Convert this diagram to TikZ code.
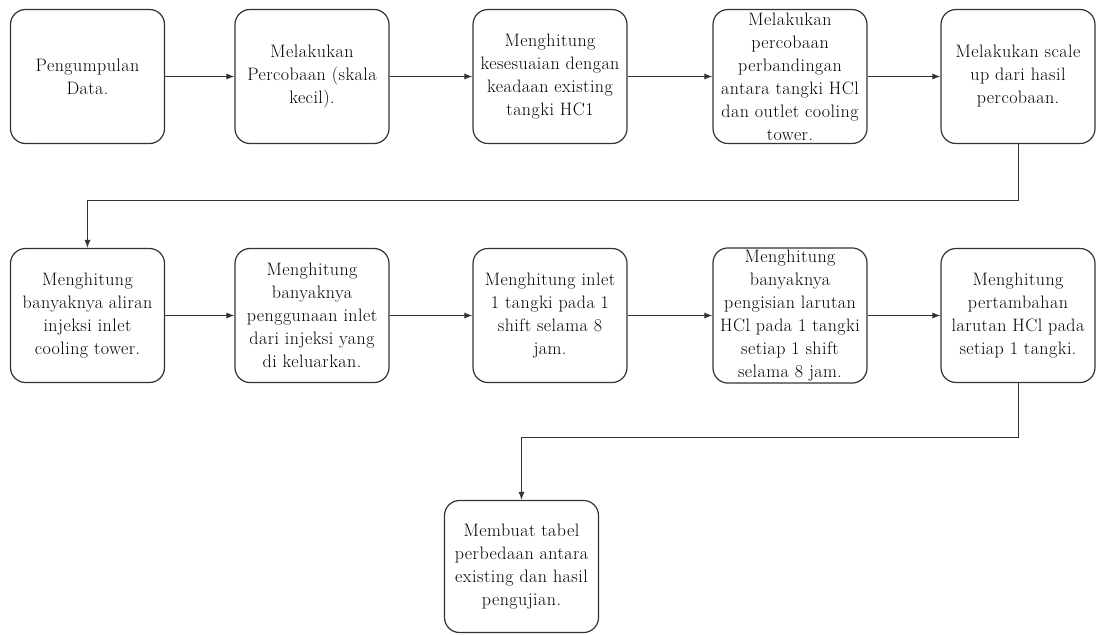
\documentclass[tikz,border=0pt]{standalone}
\usepackage{fontspec}
\setmainfont{Latin Modern Roman}[LetterSpace=2.5]
\usetikzlibrary{arrows.meta}
\begin{document}
\begin{tikzpicture}[x=1pt,y=-1pt,
  box/.style={draw=black!80, line width=1.2pt, rounded corners=15pt, fill=white,
    minimum width=154pt, minimum height=134pt, align=center, inner sep=2pt,
    font=\fontsize{18}{23}\selectfont},
  conn/.style={draw=black!80, line width=0.9pt, -{Latex[length=8pt,width=6pt]}}]
\useasboundingbox (0,0) rectangle (1096,635);
\node[box] (b1) at (87.5,76.5) {Pengumpulan\\Data.};
\node[box] (b2) at (312,76.5) {Melakukan\\Percobaan (skala\\kecil).};
\node[box] (b3) at (550,76.5) {Menghitung\\kesesuaian dengan\\keadaan existing\\tangki HC1};
\node[box] (b4) at (790,76.5) {Melakukan\\percobaan\\perbandingan\\antara tangki HCl\\dan outlet cooling\\tower.};
\node[box] (b5) at (1018,76.5) {Melakukan scale\\up dari hasil\\percobaan.};
\node[box] (b6) at (87.5,315.5) {Menghitung\\banyaknya aliran\\injeksi inlet\\cooling tower.};
\node[box] (b7) at (312,315.5) {Menghitung\\banyaknya\\penggunaan inlet\\dari injeksi yang\\di keluarkan.};
\node[box] (b8) at (550,315.5) {Menghitung inlet\\1 tangki pada 1\\shift selama 8\\jam.};
\node[box] (b9) at (790,315.5) {Menghitung\\banyaknya\\pengisian larutan\\HCl pada 1 tangki\\setiap 1 shift\\selama 8 jam.};
\node[box] (b10) at (1018,315.5) {Menghitung\\pertambahan\\larutan HCl pada\\setiap 1 tangki.};
\node[box, minimum height=132pt] (b11) at (521.5,566.5) {Membuat tabel\\perbedaan antara\\existing dan hasil\\pengujian.};
\coordinate (c1) at (0,200);
\coordinate (c2) at (0,437);
\draw[conn] (b1.east) -- (b2.west);
\draw[conn] (b2.east) -- (b3.west);
\draw[conn] (b3.east) -- (b4.west);
\draw[conn] (b4.east) -- (b5.west);
\draw[conn] (b5.south) -- (b5.south |- c1) -| (b6.north);
\draw[conn] (b6.east) -- (b7.west);
\draw[conn] (b7.east) -- (b8.west);
\draw[conn] (b8.east) -- (b9.west);
\draw[conn] (b9.east) -- (b10.west);
\draw[conn] (b10.south) -- (b10.south |- c2) -| (b11.north);
\end{tikzpicture}
\end{document}
